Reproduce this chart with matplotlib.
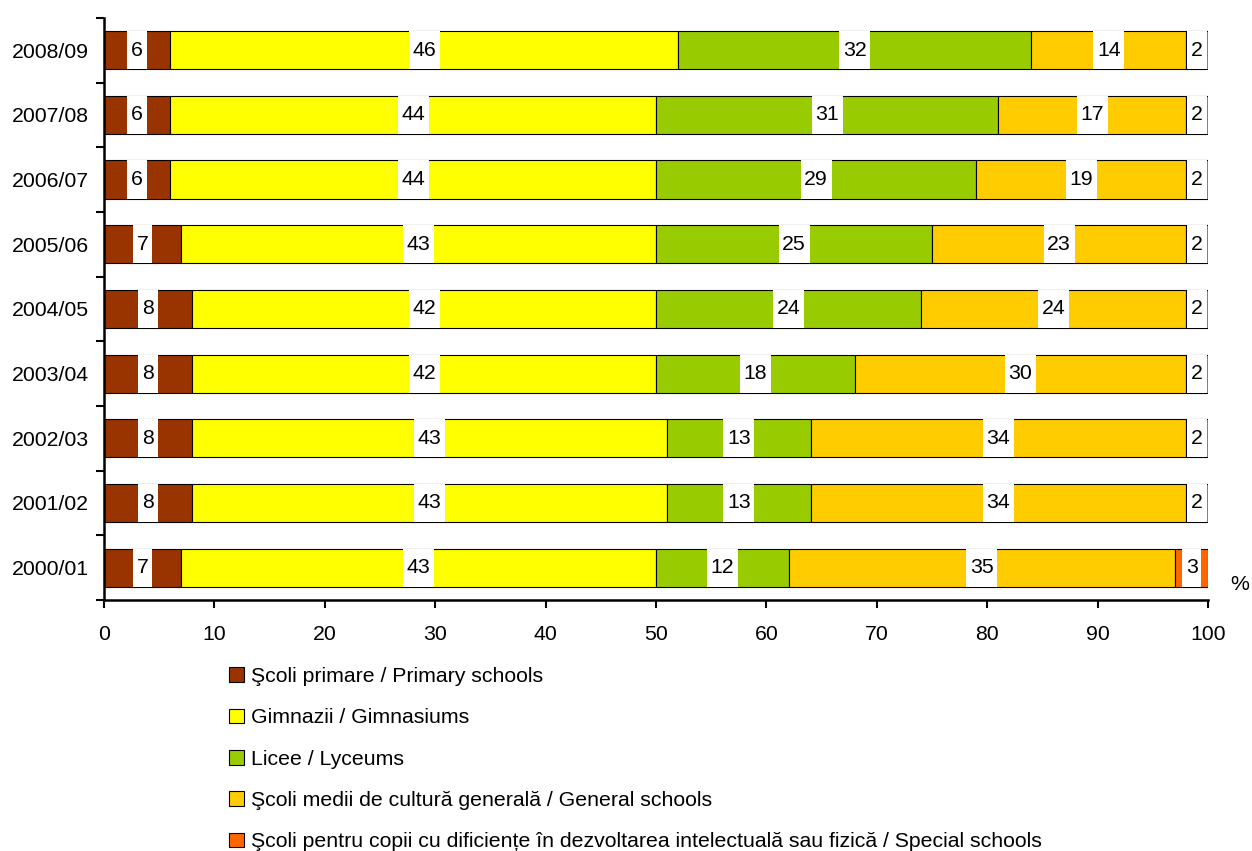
import matplotlib.pyplot as plt
import numpy as np

plt.rcParams['font.family'] = ['Liberation Sans', 'DejaVu Sans']

# School years, bottom to top
years = ['2000/01', '2001/02', '2002/03', '2003/04', '2004/05',
         '2005/06', '2006/07', '2007/08', '2008/09']

# Share of pupils (%) by type of school
primary = [7, 8, 8, 8, 8, 7, 6, 6, 6]
gymnasium = [43, 43, 43, 42, 42, 43, 44, 44, 46]
lyceum = [12, 13, 13, 18, 24, 25, 29, 31, 32]
general = [35, 34, 34, 30, 24, 23, 19, 17, 14]
special = [3, 2, 2, 2, 2, 2, 2, 2, 2]

series = [primary, gymnasium, lyceum, general, special]
names = ['Şcoli primare / Primary schools',
         'Gimnazii / Gimnasiums',
         'Licee / Lyceums',
         'Şcoli medii de cultură generală / General schools',
         'Şcoli pentru copii cu dificiențe în dezvoltarea intelectuală sau fizică / Special schools']
colors = ['#993300', '#FFFF00', '#99CC00', '#FFCC00', '#FF6600']

fs = 15.3

fig = plt.figure(figsize=(12.52, 8.51), dpi=100)
ax = fig.add_axes([0.083, 0.295, 0.882, 0.684])

y = np.arange(len(years))
h = 0.59
left = np.zeros(len(years))
handles = []
px_per_unit = 0.882 * 1252 / 100.0
for vals, name, col in zip(series, names, colors):
    vals = np.array(vals, dtype=float)
    b = ax.barh(y, vals, left=left, height=h, color=col, edgecolor='black',
                linewidth=0.8, label=name)
    handles.append(b)
    # white label boxes
    for yi, l, v in zip(y, left, vals):
        txt = '%d' % v
        w = (len(txt) * 11.8 + 7.5) / px_per_unit
        cx = l + v / 2
        ax.add_patch(plt.Rectangle((cx - w / 2, yi - h / 2), w, h,
                                   facecolor='white', edgecolor='none', zorder=3))
        ax.text(cx, yi, txt, ha='center', va='center', fontsize=fs, zorder=4)
    left = left + vals

ax.set_xlim(0, 100)
ax.set_ylim(-0.5, len(years) - 0.5)
ax.set_xticks(np.arange(0, 101, 10))
ax.set_yticks(y)
ax.set_yticklabels(years)
ax.set_yticks(np.arange(-0.5, len(years), 1), minor=True)
ax.tick_params(axis='y', which='major', length=0, pad=11, labelsize=fs)
ax.tick_params(axis='y', which='minor', length=6, width=1.5)
ax.tick_params(axis='x', length=6, width=1.5, labelsize=fs, pad=12)
for s in ['top', 'right']:
    ax.spines[s].set_visible(False)
for s in ['left', 'bottom']:
    ax.spines[s].set_linewidth(1.8)

fig.text(0.998, 0.313, '%', ha='right', va='center', fontsize=fs)

fig.legend(handles=handles, labels=names, loc='upper left',
           bbox_to_anchor=(0.1765, 0.226), frameon=False, fontsize=fs,
           handlelength=0.7, handleheight=0.7, handletextpad=0.3,
           labelspacing=1.05, borderaxespad=0)

plt.savefig('out.png')
